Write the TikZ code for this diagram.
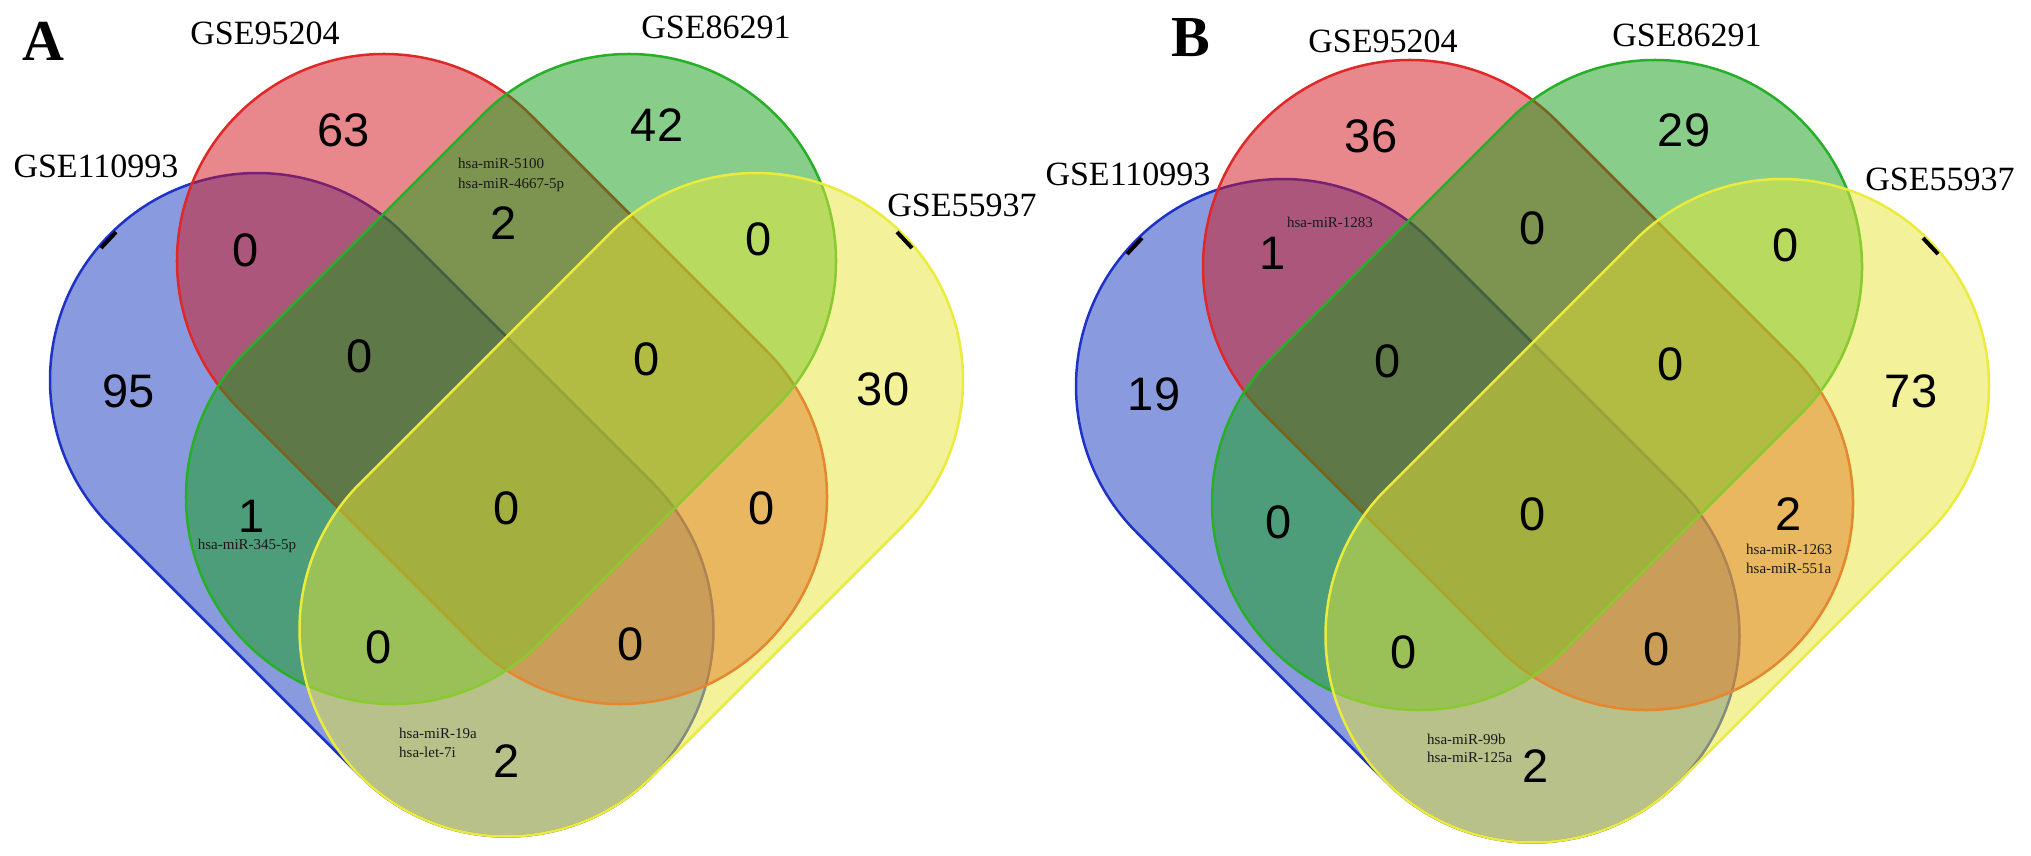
\documentclass[tikz,border=0pt]{standalone}
\usepackage{tikz}
\usepackage{xcolor}
\usepackage{fontspec}
\setmainfont{Liberation Serif}
\setsansfont{Liberation Sans}

\definecolor{fblue}{RGB}{20,56,190}
\definecolor{fred}{RGB}{210,18,26}
\definecolor{fgreen}{RGB}{18,158,22}
\definecolor{fyellow}{RGB}{232,230,54}
\definecolor{lblue}{RGB}{30,50,200}
\definecolor{lred}{RGB}{225,40,40}
\definecolor{lgreen}{RGB}{40,175,40}
\definecolor{lyellow}{RGB}{235,235,60}

\begin{document}
\begin{tikzpicture}[x=1pt,y=-1pt]%
  \tikzstyle{setb}=[fill=fblue,fill opacity=0.5,draw=lblue,line width=2.5pt,rounded corners=207pt]
  \tikzstyle{setr}=[fill=fred,fill opacity=0.5,draw=lred,line width=2.5pt,rounded corners=207pt]
  \tikzstyle{setg}=[fill=fgreen,fill opacity=0.5,draw=lgreen,line width=2.5pt,rounded corners=207pt]
  \tikzstyle{sety}=[fill=fyellow,fill opacity=0.5,draw=lyellow,line width=2.5pt,rounded corners=207pt]
  \tikzstyle{edgemark}=[line width=4pt,black]
  \tikzstyle{num}=[inner sep=0,font=\sffamily\fontsize{47}{47}\selectfont]
  \tikzstyle{gse}=[inner sep=0,font=\fontsize{34}{34}\selectfont]
  \tikzstyle{mir}=[inner sep=0,anchor=base west,text=black!90,font=\fontsize{15}{15}\selectfont]
  \tikzstyle{panel}=[inner sep=0,font=\bfseries\fontsize{58}{58}\selectfont]
  \useasboundingbox (0,0) rectangle (2031,855);

  % panel A
  \begin{scope}
    \draw[setb,rotate around={-45:(381.75,504.75)}] (-1.65,297.75) rectangle (765.15,711.75);
    \draw[setr,rotate around={-45:(502,379)}] (128.1,172) rectangle (875.9,586);
    \draw[setg,rotate around={45:(511,379)}] (137.1,172) rectangle (884.9,586);
    \draw[sety,rotate around={45:(631.25,504.75)}] (247.85,297.75) rectangle (1014.65,711.75);
    \draw[edgemark] (101,248) -- (116,232);
    \draw[edgemark] (912,248) -- (897,232);
  \end{scope}

  % panel B
  \begin{scope}[shift={(1026,6)}]
    \draw[setb,rotate around={-45:(381.75,504.75)}] (-1.65,297.75) rectangle (765.15,711.75);
    \draw[setr,rotate around={-45:(502,379)}] (128.1,172) rectangle (875.9,586);
    \draw[setg,rotate around={45:(511,379)}] (137.1,172) rectangle (884.9,586);
    \draw[sety,rotate around={45:(631.25,504.75)}] (247.85,297.75) rectangle (1014.65,711.75);
    \draw[edgemark] (101,248) -- (116,232);
    \draw[edgemark] (912,248) -- (897,232);
  \end{scope}

  % labels A
  \node(pa)[panel] at (43,41) {A};
  \node(ga1)[gse] at (265,33) {GSE95204};
  \node(ga2)[gse] at (716,27) {GSE86291};
  \node(ga3)[gse] at (96,166) {GSE110993};
  \node(ga4)[gse] at (962,205) {GSE55937};
  \node(a63)[num] at (344,130) {63};
  \node(a42)[num] at (657,125) {42};
  \node(arg)[num] at (504,223) {2};
  \node(ma1)[mir] at (458,168) {hsa-miR-5100};
  \node(ma2)[mir] at (458,188) {hsa-miR-4667-5p};
  \node(abr)[num] at (246,250) {0};
  \node(agy)[num] at (759,239) {0};
  \node(a95)[num] at (129,391) {95};
  \node(abrg)[num] at (360,356) {0};
  \node(argy)[num] at (647,359) {0};
  \node(a30)[num] at (883,389) {30};
  \node(abg)[num] at (252,516) {1};
  \node(ma3)[mir,anchor=center] at (247,546) {hsa-miR-345-5p};
  \node(aall)[num] at (507,508) {0};
  \node(ary)[num] at (762,508) {0};
  \node(abgy)[num] at (379,647) {0};
  \node(abry)[num] at (631,644) {0};
  \node(ma4)[mir] at (399,738) {hsa-miR-19a};
  \node(ma5)[mir] at (399,757) {hsa-let-7i};
  \node(aby)[num] at (507,761) {2};

  % labels B
  \node(pb)[panel] at (1191,38) {B};
  \node(gb1)[gse] at (1383,41) {GSE95204};
  \node(gb2)[gse] at (1687,35) {GSE86291};
  \node(gb3)[gse] at (1128,174) {GSE110993};
  \node(gb4)[gse] at (1940,179) {GSE55937};
  \node(b36)[num] at (1371,136) {36};
  \node(b29)[num] at (1684,130) {29};
  \node(mb1)[mir,anchor=center] at (1330,222) {hsa-miR-1283};
  \node(bbr)[num] at (1273,253) {1};
  \node(brg)[num] at (1533,228) {0};
  \node(bgy)[num] at (1786,245) {0};
  \node(b19)[num] at (1154,394) {19};
  \node(bbrg)[num] at (1388,361) {0};
  \node(brgy)[num] at (1671,364) {0};
  \node(b73)[num] at (1911,391) {73};
  \node(bbg)[num] at (1279,522) {0};
  \node(ball)[num] at (1533,514) {0};
  \node(bry)[num] at (1789,514) {2};
  \node(mb2)[mir] at (1746,554) {hsa-miR-1263};
  \node(mb3)[mir] at (1746,573) {hsa-miR-551a};
  \node(bbgy)[num] at (1404,652) {0};
  \node(bbry)[num] at (1657,649) {0};
  \node(mb4)[mir] at (1427,744) {hsa-miR-99b};
  \node(mb5)[mir] at (1427,762) {hsa-miR-125a};
  \node(bby)[num] at (1536,766) {2};
\end{tikzpicture}
\end{document}
